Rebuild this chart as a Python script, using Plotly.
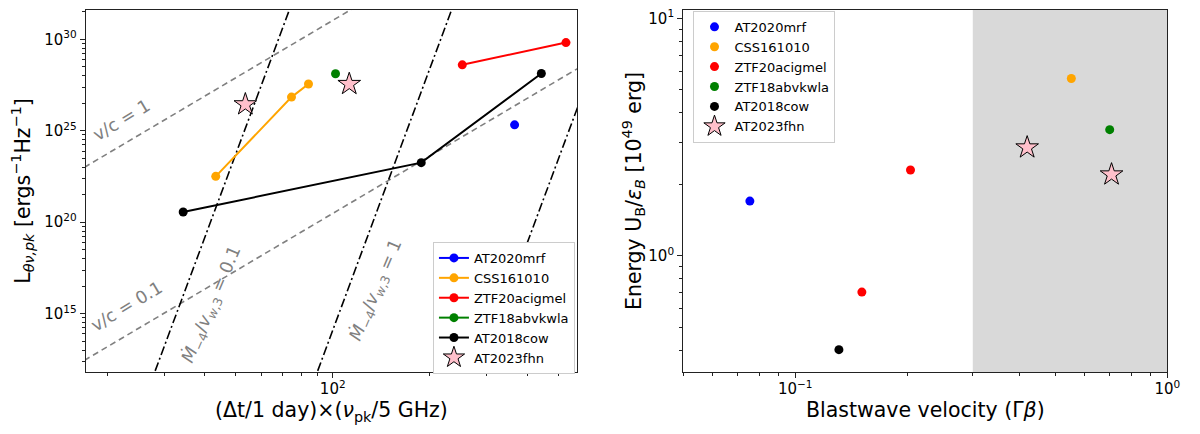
import plotly.graph_objects as go

# Left panel: peak luminosity vs (dt/1 day) x (nu_pk / 5 GHz)
mrf_tnu = [366]
mrf_lpk = [2.1e25]
css_tnu = [43.4, 74.5, 84.1]
css_lpk = [3.2e22, 6.9e26, 3.6e27]
acig_tnu = [252, 528]
acig_lpk = [4.0e28, 6.6e29]
abvk_tnu = [102]
abvk_lpk = [1.3e28]
cow_tnu = [34.4, 188, 443]
cow_lpk = [3.6e20, 1.8e23, 1.35e28]
fhn_tnu = [53.6, 112.5]
fhn_lpk = [2.75e26, 3.55e27]

# Left panel: reference lines (constant v/c and constant Mdot/v_w)
vc1_x = [17, 120]
vc1_y = [1e23, 7.2e31]
vc01_x = [17, 600]
vc01_y = [2.8e12, 4e28]
mdot_y = [1e11, 1e32]
mdot01_x = [27.0, 74.8]
mdot1_x = [86.1, 238]
mdot10_x = [273.5, 757]

# Right panel: energy vs blastwave velocity
mrf_gb = [0.0755]
mrf_e = [1.70]
css_gb = [0.552]
css_e = [5.59]
acig_gb = [0.204, 0.151]
acig_e = [2.30, 0.703]
abvk_gb = [0.700]
abvk_e = [3.40]
cow_gb = [0.131]
cow_e = [0.402]
fhn_gb = [0.420, 0.708]
fhn_e = [2.86, 2.20]

# relativistic region shaded on the right panel
shade_lo, shade_hi = 0.3, 1.0

names = ["AT2020mrf", "CSS161010", "ZTF20acigmel", "ZTF18abvkwla", "AT2018cow"]
colors = ["blue", "orange", "red", "green", "black"]

FONT = "DejaVu Sans"
GRAY = "#808080"

fig = go.Figure()

# reference lines first so the data sits on top
for xs, ys in [(vc1_x, vc1_y), (vc01_x, vc01_y)]:
    fig.add_trace(go.Scatter(x=xs, y=ys, mode="lines", showlegend=False, hoverinfo="skip",
                             line=dict(color=GRAY, width=1.6, dash="6px,4px"),
                             xaxis="x", yaxis="y"))
for xs in [mdot01_x, mdot1_x, mdot10_x]:
    fig.add_trace(go.Scatter(x=xs, y=mdot_y, mode="lines", showlegend=False, hoverinfo="skip",
                             line=dict(color="black", width=1.6, dash="9px,3px,2px,3px"),
                             xaxis="x", yaxis="y"))

left_sets = [(mrf_tnu, mrf_lpk), (css_tnu, css_lpk), (acig_tnu, acig_lpk),
             (abvk_tnu, abvk_lpk), (cow_tnu, cow_lpk)]
for name, c, (xs, ys) in zip(names, colors, left_sets):
    fig.add_trace(go.Scatter(x=xs, y=ys, mode="lines+markers", name=name,
                             line=dict(color=c, width=2), marker=dict(color=c, size=9),
                             xaxis="x", yaxis="y", legend="legend"))
fig.add_trace(go.Scatter(x=fhn_tnu, y=fhn_lpk, mode="markers", name="AT2023fhn",
                         marker=dict(symbol="star", size=17, color="pink",
                                     line=dict(color="black", width=1)),
                         xaxis="x", yaxis="y", legend="legend"))

right_sets = [(mrf_gb, mrf_e), (css_gb, css_e), (acig_gb, acig_e),
              (abvk_gb, abvk_e), (cow_gb, cow_e)]
for name, c, (xs, ys) in zip(names, colors, right_sets):
    fig.add_trace(go.Scatter(x=xs, y=ys, mode="markers", name=name,
                             marker=dict(color=c, size=9),
                             xaxis="x2", yaxis="y2", legend="legend2"))
fig.add_trace(go.Scatter(x=fhn_gb, y=fhn_e, mode="markers", name="AT2023fhn",
                         marker=dict(symbol="star", size=17, color="pink",
                                     line=dict(color="black", width=1)),
                         xaxis="x2", yaxis="y2", legend="legend2"))

fig.add_shape(type="rect", xref="x2", yref="y2 domain", x0=shade_lo, x1=shade_hi,
              y0=0, y1=1, fillcolor="#d9d9d9", line=dict(width=0), layer="below")

# text labels along the reference lines
ann_font = dict(family=FONT, size=17.5, color=GRAY)
labels = [
    ("v/c = 1", 0.0956, 0.7459, -31),
    ("v/c = 0.1", 0.1004, 0.3141, -31),
    ("<i>Ṁ</i><sub>−4</sub>/<i>v</i><sub><i>w</i>,3</sub> = 0.1", 0.1723, 0.3180, -67),
    ("<i>Ṁ</i><sub>−4</sub>/<i>v</i><sub><i>w</i>,3</sub> = 1", 0.3107, 0.3502, -67),
]
for txt, px, py, ang in labels:
    fig.add_annotation(text=txt, x=px, y=py, xref="paper", yref="paper", showarrow=False,
                       textangle=ang, xanchor="center", yanchor="middle", font=ann_font)

# minor ticks as matplotlib draws them
minor_lin_x = [k * 10.0 ** n for n in (1, 2) for k in range(2, 10)]
minor_big_y = [float(k) ** 5 * 10.0 ** n for n in (10, 15, 20, 25, 30) for k in range(2, 10)]
minor_r_x = [k * 10.0 ** n for n in (-2, -1) for k in range(2, 10)]
minor_r_y = [k * 10.0 ** n for n in (-1, 0) for k in range(2, 10)]

tick_font = dict(family=FONT, size=15, color="black")
title_font = dict(family=FONT, size=20.5, color="black")


def axis(**kw):
    base = dict(type="log", showgrid=False, zeroline=False, showline=True, mirror=True,
                linecolor="#222", linewidth=1.4, ticks="outside", ticklen=5, tickwidth=1.2,
                tickcolor="#222", tickfont=tick_font, tickmode="array",
                ticklabeloverflow="allow")
    base.update(kw)
    return base


ydom = [0.162, 1.0]
fig.update_layout(
    width=1200, height=434,
    margin=dict(l=0, r=0, t=0, b=0),
    paper_bgcolor="white", plot_bgcolor="white",
    font=dict(family=FONT),
    xaxis=axis(domain=[0.0656, 0.4794], anchor="y", range=[1.235, 2.757],
               tickvals=[100], ticktext=["10<sup>2</sup>"], ticklabelstandoff=-2,
               minor=dict(tickmode="array", tickvals=minor_lin_x, ticks="outside",
                          ticklen=3, tickcolor="#222"),
               title=dict(text="(Δt/1 day)×(<i>ν</i><sub>pk</sub>/5 GHz)", font=title_font,
                          standoff=3)),
    yaxis=axis(domain=ydom, anchor="x", range=[11.81, 31.6],
               tickvals=[1e15, 1e20, 1e25, 1e30],
               ticktext=["10<sup>15</sup>", "10<sup>20</sup>", "10<sup>25</sup>", "10<sup>30</sup>"],
               minor=dict(tickmode="array", tickvals=minor_big_y, ticks="outside",
                          ticklen=3, tickcolor="#222"),
               title=dict(text="L<sub><i>θν,pk</i></sub> [ergs<sup>−1</sup>Hz<sup>−1</sup>]",
                          font=title_font, standoff=19)),
    xaxis2=axis(domain=[0.5689, 0.9767], anchor="y2", range=[-1.301, 0],
                tickvals=[0.1, 1], ticktext=["10<sup>−1</sup>", "10<sup>0</sup>"],
                ticklabelstandoff=-2,
                minor=dict(tickmode="array", tickvals=minor_r_x, ticks="outside",
                           ticklen=3, tickcolor="#222"),
                title=dict(text="Blastwave velocity (Γ<i>β</i>)", font=title_font, standoff=3)),
    yaxis2=axis(domain=ydom, anchor="x2", range=[-0.49, 1.036],
                tickvals=[1, 10], ticktext=["10<sup>0</sup>", "10<sup>1</sup>"],
                minor=dict(tickmode="array", tickvals=minor_r_y, ticks="outside",
                           ticklen=3, tickcolor="#222"),
                title=dict(text="Energy U<sub>B</sub>/<i>ε</i><sub><i>B</i></sub> [10<sup>49</sup> erg]",
                           font=title_font, standoff=0)),
    legend=dict(x=0.358, y=0.463, xanchor="left", yanchor="top", bgcolor="white",
                bordercolor="#cccccc", borderwidth=1, font=dict(family=FONT, size=13, color="black"),
                tracegroupgap=0),
    legend2=dict(x=0.5775, y=0.998, xanchor="left", yanchor="top", bgcolor="white",
                 bordercolor="#cccccc", borderwidth=1, font=dict(family=FONT, size=13, color="black"),
                 tracegroupgap=0),
)

fig.write_html("out.html")
